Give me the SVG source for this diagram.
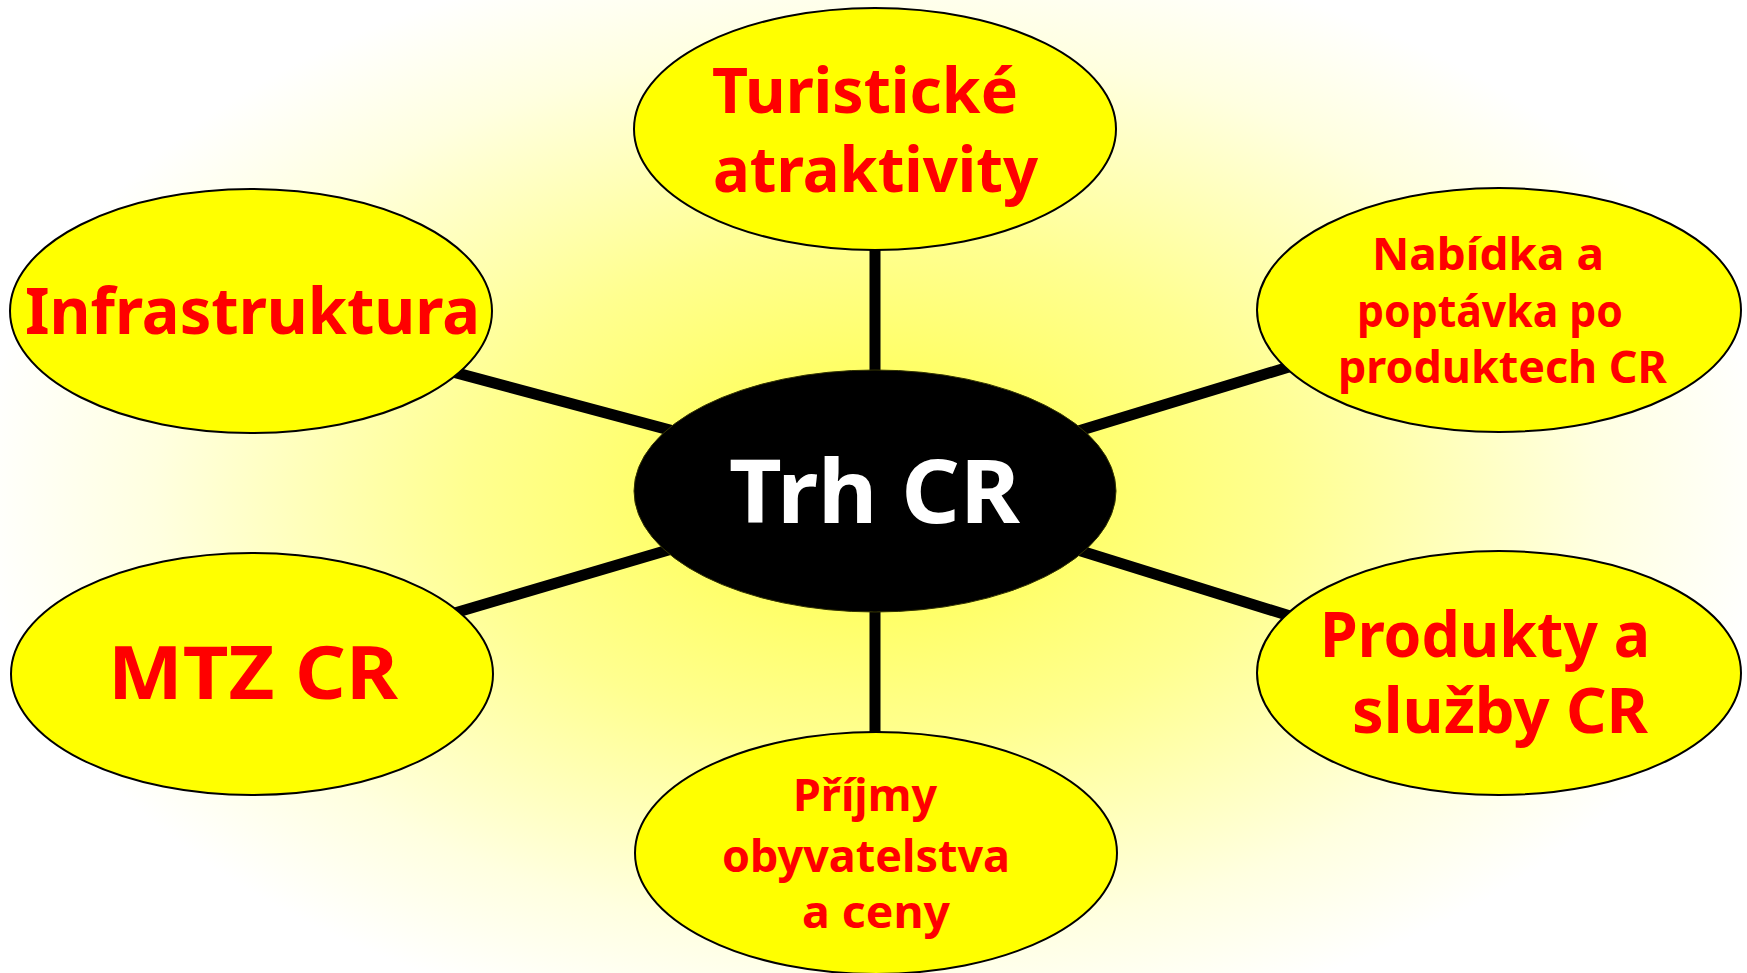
<svg xmlns="http://www.w3.org/2000/svg" width="1747" height="973" viewBox="0 0 1747 973">
  <defs>
    <radialGradient id="bg" gradientUnits="userSpaceOnUse" cx="875" cy="490" r="900" gradientTransform="translate(875 490) scale(1 0.62) translate(-875 -490)">
      <stop offset="0" stop-color="#ffff40"/>
      <stop offset="0.45" stop-color="#ffff90"/>
      <stop offset="0.8" stop-color="#ffffe0"/>
      <stop offset="1" stop-color="#ffffff"/>
    </radialGradient>
  </defs>
  <style>
    .node { fill: #ffff00; stroke: #000000; stroke-width: 2; }
    .hub { fill: #000000; stroke: #333300; stroke-width: 1; }
    .lbl { font-family: "Comic Sans MS", "Noto Sans", "DejaVu Sans", sans-serif; font-weight: bold; fill: #ff0000; }
    .hubl { font-family: "Comic Sans MS", "Noto Sans", "DejaVu Sans", sans-serif; font-weight: bold; fill: #ffffff; }
    .conn { stroke: #000000; stroke-width: 11; fill: none; }
  </style>
  <rect x="0" y="0" width="1747" height="973" fill="url(#bg)"/>

  <g id="connectors">
    <line class="conn" x1="875" y1="250" x2="875" y2="372"/>
    <line class="conn" x1="875" y1="612" x2="875" y2="733"/>
    <line class="conn" x1="251" y1="318" x2="875" y2="485"/>
    <line class="conn" x1="251" y1="673" x2="875" y2="489"/>
    <line class="conn" x1="875" y1="493" x2="1499" y2="303"/>
    <line class="conn" x1="875" y1="487" x2="1499" y2="681"/>
  </g>

  <g id="node-turisticke">
    <ellipse class="node" cx="875" cy="129" rx="241" ry="121"/>
    <text class="lbl" font-size="62" x="712" y="113" textLength="306" lengthAdjust="spacingAndGlyphs">Turistické</text>
    <text class="lbl" font-size="62" x="713" y="192" textLength="325" lengthAdjust="spacingAndGlyphs">atraktivity</text>
  </g>

  <g id="node-infrastruktura">
    <ellipse class="node" cx="251" cy="311" rx="241" ry="122"/>
    <text class="lbl" font-size="64" x="25" y="334" textLength="455" lengthAdjust="spacingAndGlyphs">Infrastruktura</text>
  </g>

  <g id="node-nabidka">
    <ellipse class="node" cx="1499" cy="310" rx="242" ry="122"/>
    <text class="lbl" font-size="45" x="1372" y="270" textLength="232" lengthAdjust="spacingAndGlyphs">Nabídka a</text>
    <text class="lbl" font-size="45" x="1357" y="327" textLength="266" lengthAdjust="spacingAndGlyphs">poptávka po</text>
    <text class="lbl" font-size="45" x="1338" y="383" textLength="329" lengthAdjust="spacingAndGlyphs">produktech CR</text>
  </g>

  <g id="node-mtz">
    <ellipse class="node" cx="252" cy="674" rx="241" ry="121"/>
    <text class="lbl" font-size="74" x="108" y="699" textLength="290" lengthAdjust="spacingAndGlyphs">MTZ CR</text>
  </g>

  <g id="node-produkty">
    <ellipse class="node" cx="1499" cy="673" rx="242" ry="122"/>
    <text class="lbl" font-size="62" x="1320" y="657" textLength="330" lengthAdjust="spacingAndGlyphs">Produkty a</text>
    <text class="lbl" font-size="62" x="1352" y="733" textLength="296" lengthAdjust="spacingAndGlyphs">služby CR</text>
  </g>

  <g id="node-prijmy">
    <ellipse class="node" cx="876" cy="853" rx="241" ry="121"/>
    <text class="lbl" font-size="44" x="793" y="811" textLength="144" lengthAdjust="spacingAndGlyphs">Příjmy</text>
    <text class="lbl" font-size="44" x="722" y="872" textLength="288" lengthAdjust="spacingAndGlyphs">obyvatelstva</text>
    <text class="lbl" font-size="44" x="802" y="928" textLength="148" lengthAdjust="spacingAndGlyphs">a ceny</text>
  </g>

  <g id="node-trh">
    <ellipse class="hub" cx="875" cy="491" rx="241" ry="121"/>
    <text class="hubl" font-size="88" x="729" y="523" textLength="291" lengthAdjust="spacingAndGlyphs">Trh CR</text>
  </g>
</svg>
